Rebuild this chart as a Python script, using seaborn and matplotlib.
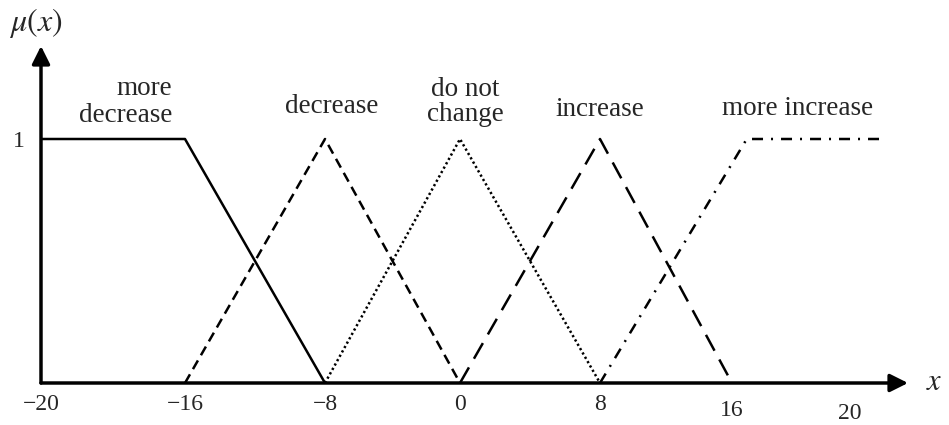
import numpy as np
import pandas as pd
import matplotlib
matplotlib.use("Agg")
import matplotlib.pyplot as plt
import matplotlib.transforms as mtransforms
import seaborn as sns

# Membership functions (x breakpoints, membership degree)
md_x = [-20, -16, -8]
md_y = [1, 1, 0]
dec_x = [-16, -8, 0]
dec_y = [0, 1, 0]
nc_x = [-8, 0, 8]
nc_y = [0, 1, 0]
inc_x = [0, 8, 16]
inc_y = [0, 1, 0]
mi_x = [8, 16.5, 21.2]
mi_y = [0, 1, 1]

tick_values = [-20, -16, -8, 0, 8, 16, 20]
tick_labels = ["\u221220", "\u221216", "\u22128", "0", "8", "16", "20"]

# Schematic (non-uniform) horizontal axis: each tick value gets its own position
tick_pos = [41, 185, 325, 460, 600, 732, 850]


def fwd(v):
    v = np.asarray(v, dtype=float)
    out = np.interp(v, tick_values, tick_pos)
    lo_s = (tick_pos[1] - tick_pos[0]) / (tick_values[1] - tick_values[0])
    hi_s = (tick_pos[-1] - tick_pos[-2]) / (tick_values[-1] - tick_values[-2])
    out = np.where(v < tick_values[0], tick_pos[0] + (v - tick_values[0]) * lo_s, out)
    out = np.where(v > tick_values[-1], tick_pos[-1] + (v - tick_values[-1]) * hi_s, out)
    return out


def inv(p):
    p = np.asarray(p, dtype=float)
    out = np.interp(p, tick_pos, tick_values)
    lo_s = (tick_values[1] - tick_values[0]) / (tick_pos[1] - tick_pos[0])
    hi_s = (tick_values[-1] - tick_values[-2]) / (tick_pos[-1] - tick_pos[-2])
    out = np.where(p < tick_pos[0], tick_values[0] + (p - tick_pos[0]) * lo_s, out)
    out = np.where(p > tick_pos[-1], tick_values[-1] + (p - tick_pos[-1]) * hi_s, out)
    return out


sns.set_style("white")
plt.rcParams["font.family"] = ["Liberation Serif", "DejaVu Serif"]
plt.rcParams["mathtext.fontset"] = "stix"

W, H = 949, 425
fig = plt.figure(figsize=(W / 100, H / 100), dpi=100)
ax_left, ax_right, ax_bottom, ax_top = 41, 908, 383, 46
ax = fig.add_axes([ax_left / W, 1 - ax_bottom / H,
                   (ax_right - ax_left) / W, (ax_bottom - ax_top) / H])
ax.set_xscale("function", functions=(fwd, inv))
ax.set_xlim(-20, float(inv(ax_right)))
ax.set_ylim(0, (ax_bottom - ax_top) / (ax_bottom - 139))

lw = 1.8
series = [
    (md_x, md_y, "-"),
    (dec_x, dec_y, (0, (4, 2.4))),
    (nc_x, nc_y, (0, (0.9, 1.1))),
    (inc_x, inc_y, (0, (7.2, 4.0))),
    (mi_x, mi_y, (0, (4.4, 3.2, 0.8, 3.2))),
]
for xs, ys, ls in series:
    df = pd.DataFrame({"x": xs, "mu": ys})
    sns.lineplot(data=df, x="x", y="mu", sort=False, estimator=None,
                 color="black", lw=lw, linestyle=ls, ax=ax)

for s in ax.spines.values():
    s.set_visible(False)

# Axes with arrowheads
arrow = dict(arrowstyle="-|>", lw=2.5, color="black", mutation_scale=27,
             shrinkA=0, shrinkB=0)
ax.annotate("", xy=(1, 0), xytext=(0, 0), xycoords="axes fraction",
            textcoords="axes fraction", arrowprops=arrow, annotation_clip=False)
ax.annotate("", xy=(0, 1), xytext=(0, 0), xycoords="axes fraction",
            textcoords="axes fraction", arrowprops=arrow, annotation_clip=False)

ax.set_xticks(tick_values)
ax.set_xticklabels(tick_labels, fontsize=17)
ax.set_yticks([1])
ax.set_yticklabels(["1"], fontsize=17)
ax.tick_params(axis="x", length=0, pad=8)
ax.tick_params(axis="y", length=0, pad=12)
ax.set_xlabel("")
ax.set_ylabel("")
ax.minorticks_off()

# The last two x labels sit a little lower than the others
label_drop = {"16": 6, "20": 9}
for lbl in ax.get_xticklabels():
    d = label_drop.get(lbl.get_text(), 0)
    if d:
        lbl.set_transform(lbl.get_transform() +
                          mtransforms.ScaledTranslation(0, -d / 100, fig.dpi_scale_trans))


def ftext(px, py, s, **kw):
    fig.text(px / W, 1 - py / H, s, **kw)


fs = 19.5
ftext(172, 95, "more", fontsize=fs, ha="right", va="baseline")
ftext(172, 122, "decrease", fontsize=fs, ha="right", va="baseline")
ftext(332, 113, "decrease", fontsize=fs, ha="center", va="baseline")
ftext(465, 96, "do not", fontsize=fs, ha="center", va="baseline")
ftext(465, 121, "change", fontsize=fs, ha="center", va="baseline")
ftext(600, 116, "increase", fontsize=fs, ha="center", va="baseline")
ftext(798, 115, "more increase", fontsize=fs, ha="center", va="baseline")

ftext(9, 23, r"$\mu(x)$", fontsize=23, ha="left", va="center")
ftext(934, 383, r"$x$", fontsize=22, ha="center", va="center")

fig.savefig("out.png", dpi=100)
